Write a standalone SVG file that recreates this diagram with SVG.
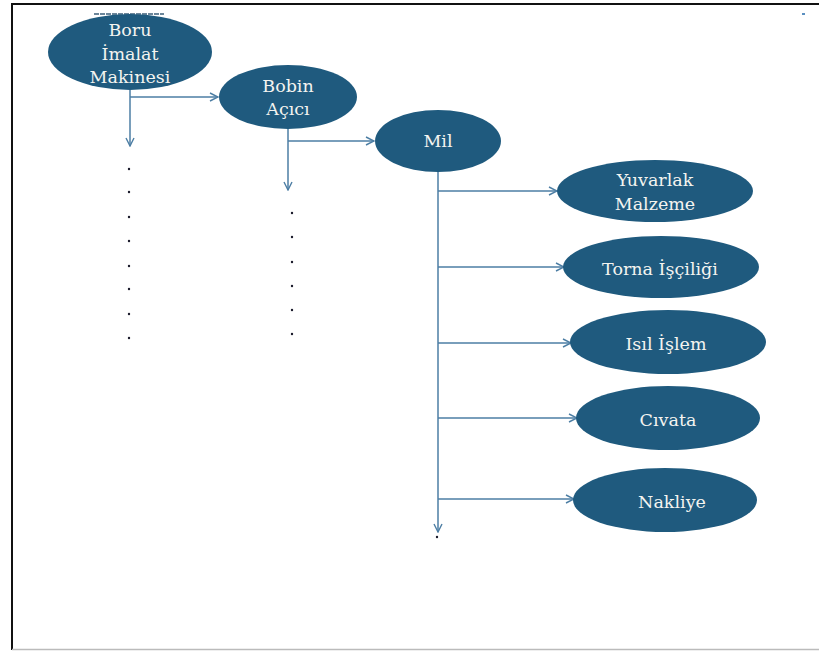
<svg xmlns="http://www.w3.org/2000/svg" width="819" height="651" viewBox="0 0 819 651">
  <style>
    .node ellipse { fill: #1f5a7e; }
    .node text { font-family: "DejaVu Serif", "Liberation Serif", serif; font-size: 17.5px; fill: #f4f4f0; text-anchor: middle; }
    .conn { fill: none; stroke: #4d7ea4; stroke-width: 1.5; }
    .dot { fill: #1a1a2a; }
  </style>
  <defs>
    <marker id="arr" viewBox="0 0 10 10" refX="9" refY="5" markerWidth="10" markerHeight="10" markerUnits="userSpaceOnUse" orient="auto">
      <path d="M1,1 L9,5 L1,9" fill="none" stroke="#4d7ea4" stroke-width="1.4"/>
    </marker>
  </defs>

  <!-- page frame -->
  <rect x="0" y="0" width="819" height="651" fill="#ffffff"/>
  <line x1="11" y1="4" x2="819" y2="4" stroke="#111" stroke-width="2"/>
  <line x1="12" y1="4" x2="12" y2="650" stroke="#111" stroke-width="2"/>
  <line x1="12" y1="649.5" x2="819" y2="649.5" stroke="#bbbbbb" stroke-width="1.5"/>
  <line x1="94" y1="14" x2="164" y2="14" stroke="#3d5f7a" stroke-width="1.5" stroke-dasharray="5 1"/>
  <rect x="802" y="13" width="3" height="2" fill="#5a8fc0"/>

  <!-- connectors -->
  <g id="connectors">
    <path class="conn" d="M130,90 V146" marker-end="url(#arr)"/>
    <path class="conn" d="M130,97 H218" marker-end="url(#arr)"/>
    <path class="conn" d="M288,129 V190" marker-end="url(#arr)"/>
    <path class="conn" d="M288,141 H374" marker-end="url(#arr)"/>
    <path class="conn" d="M438,172 V532" marker-end="url(#arr)"/>
    <path class="conn" d="M438,191 H557" marker-end="url(#arr)"/>
    <path class="conn" d="M438,267 H564" marker-end="url(#arr)"/>
    <path class="conn" d="M438,343 H571" marker-end="url(#arr)"/>
    <path class="conn" d="M438,418 H577" marker-end="url(#arr)"/>
    <path class="conn" d="M438,499 H574" marker-end="url(#arr)"/>
  </g>

  <!-- continuation dots -->
  <g id="dots">
    <circle class="dot" cx="129" cy="169" r="1.2"/>
    <circle class="dot" cx="129" cy="192" r="1.2"/>
    <circle class="dot" cx="129" cy="217" r="1.2"/>
    <circle class="dot" cx="129" cy="241" r="1.2"/>
    <circle class="dot" cx="129" cy="266" r="1.2"/>
    <circle class="dot" cx="129" cy="289" r="1.2"/>
    <circle class="dot" cx="129" cy="314" r="1.2"/>
    <circle class="dot" cx="129" cy="338" r="1.2"/>
    <circle class="dot" cx="292" cy="213" r="1.2"/>
    <circle class="dot" cx="292" cy="237" r="1.2"/>
    <circle class="dot" cx="292" cy="262" r="1.2"/>
    <circle class="dot" cx="292" cy="286" r="1.2"/>
    <circle class="dot" cx="292" cy="310" r="1.2"/>
    <circle class="dot" cx="292" cy="334" r="1.2"/>
    <circle class="dot" cx="437" cy="537" r="1.2"/>
  </g>

  <g id="boru" class="node">
    <ellipse cx="130" cy="52" rx="82" ry="38"/>
    <text x="130" y="36">Boru</text>
    <text x="130" y="60">İmalat</text>
    <text x="130" y="83">Makinesi</text>
  </g>
  <g id="bobin" class="node">
    <ellipse cx="288" cy="97" rx="69" ry="32"/>
    <text x="288" y="92">Bobin</text>
    <text x="288" y="115">Açıcı</text>
  </g>
  <g id="mil" class="node">
    <ellipse cx="438" cy="141" rx="63" ry="31"/>
    <text x="438" y="147">Mil</text>
  </g>
  <g id="yuvarlak" class="node">
    <ellipse cx="655" cy="191" rx="98" ry="31"/>
    <text x="655" y="186">Yuvarlak</text>
    <text x="655" y="210">Malzeme</text>
  </g>
  <g id="torna" class="node">
    <ellipse cx="661" cy="267" rx="98" ry="31"/>
    <text x="660" y="275">Torna İşçiliği</text>
  </g>
  <g id="isil" class="node">
    <ellipse cx="668" cy="342" rx="98" ry="32"/>
    <text x="666" y="350">Isıl İşlem</text>
  </g>
  <g id="civata" class="node">
    <ellipse cx="668" cy="418" rx="92" ry="32"/>
    <text x="668" y="426">Cıvata</text>
  </g>
  <g id="nakliye" class="node">
    <ellipse cx="665" cy="500" rx="92" ry="32"/>
    <text x="672" y="508">Nakliye</text>
  </g>
</svg>
